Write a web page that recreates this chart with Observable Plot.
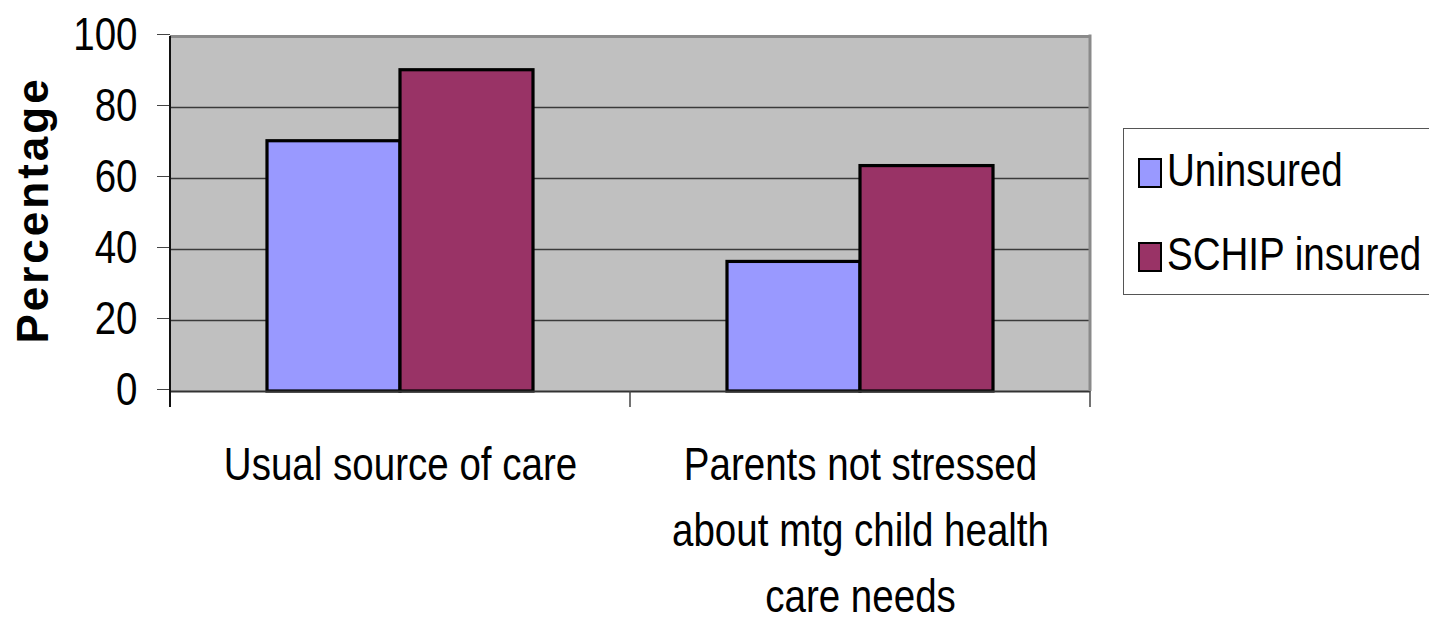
<!DOCTYPE html>
<html>
<head>
<meta charset="utf-8">
<script src="https://cdn.jsdelivr.net/npm/d3@7"></script>
<script src="https://cdn.jsdelivr.net/npm/@observablehq/plot@0.6"></script>
<style>
  body { margin: 0; background: #fff; }
  #wrap { position: relative; width: 1429px; height: 621px; overflow: hidden;
          font-family: "Liberation Sans", Arial, sans-serif; }
  #ytitle { position: absolute; left: 33px; top: 210px; transform: translate(-50%, -50%) rotate(-90deg);
            font-family: "Liberation Sans", Arial, sans-serif; font-weight: bold; font-size: 44px;
            letter-spacing: 3px; white-space: nowrap; line-height: 1; }
  #legend { position: absolute; left: 1123px; top: 128px; width: 330px; height: 167px;
            border: 1.5px solid #555; box-sizing: border-box; background: #fff; }
  .item { position: absolute; left: 14px; height: 47px; font-size: 47px; line-height: 47px; white-space: nowrap; }
  .sw { position: absolute; left: 0; width: 20px; height: 26px; border: 2.5px solid #000; }
  .lab { position: absolute; left: 29px; top: -12px; transform: scaleX(0.82); transform-origin: 0 0; }
</style>
</head>
<body>
<div id="wrap">
  <div id="chart"></div>
  <div id="ytitle">Percentage</div>
  <div id="legend"></div>
</div>
<script>
// Survey outcomes, percent of children
const categories = ["Usual source of care", "Parents not stressed\nabout mtg child health\ncare needs"];
const series = ["Uninsured", "SCHIP insured"];
const uninsured = [70.5, 36.5];
const schipInsured = [90.5, 63.5];
const seriesColors = ["#9999ff", "#993366"];
const yTicks = [0, 20, 40, 60, 80, 100];

// horizontal squeeze giving the narrow sans look
const NARROW = 0.82;

const rows = categories.flatMap((category, i) => [
  {category, series: series[0], value: uninsured[i]},
  {category, series: series[1], value: schipInsured[i]}
]);

const chart = Plot.plot({
  width: 1429,
  height: 621,
  marginLeft: 170,
  marginRight: 339,
  marginTop: 36,
  marginBottom: 230,
  style: {fontFamily: '"Liberation Sans", Arial, sans-serif', fontSize: "47px", color: "#000", background: "transparent", overflow: "visible"},
  fx: {domain: categories, padding: 0, axis: null},
  x: {domain: series, paddingInner: 0, paddingOuter: 0.727, axis: null},
  y: {domain: [0, 100], axis: null},
  color: {domain: series, range: seriesColors},
  marks: [
    Plot.frame({fill: "#c0c0c0", stroke: null, shapeRendering: "crispEdges"}),
    Plot.ruleY(yTicks.filter(t => t > 0 && t < 100), {stroke: "#3a3a3a", strokeWidth: 1.4}),
    Plot.ruleY([100], {stroke: "#8a8a8a", strokeWidth: 3}),
    Plot.barY(rows, {fx: "category", x: "series", y: "value", fill: "series", stroke: "#000", strokeWidth: 3.2}),
    Plot.ruleY([0], {stroke: "#333", strokeWidth: 2}),
    Plot.axisY({ticks: yTicks, tickSize: 13, tickPadding: 20, label: null, stroke: "#444", dy: -2}),
    Plot.axisFx({anchor: "bottom", tickSize: 0, tickPadding: 42, lineHeight: 1.4, label: null})
  ]
});

document.getElementById("chart").appendChild(chart);

// squeeze every label horizontally around its own anchor point
d3.select(chart).selectAll("text").each(function () {
  const xa = this.getAttribute("x");
  let shift = "";
  if (xa != null && /^-?[\d.]+$/.test(xa.trim())) {
    shift = ` translate(${+xa},0)`;
    this.removeAttribute("x");
  }
  const t = this.getAttribute("transform") || "";
  this.setAttribute("transform", `${t}${shift} scale(${NARROW},1)`);
});

// Frame decorations positioned from the chart's own scales
const fx = chart.scale("fx");
const ys = chart.scale("y");
const y0 = ys.apply(0), y100 = ys.apply(100);
const xStart = fx.apply(categories[0]);
const xEnd = fx.apply(categories[categories.length - 1]) + fx.bandwidth;
const deco = d3.select(chart).append("g");
// right shadow edge
deco.append("line").attr("x1", xEnd).attr("x2", xEnd).attr("y1", y100 - 1.5).attr("y2", y0)
  .attr("stroke", "#8a8a8a").attr("stroke-width", 3);
// category boundary ticks
categories.slice(1).map(c => fx.apply(c)).concat([xEnd]).forEach(x => {
  deco.append("line").attr("x1", x).attr("x2", x).attr("y1", y0).attr("y2", y0 + 16)
    .attr("stroke", "#444").attr("stroke-width", 1.5);
});
// value axis line
deco.append("line").attr("x1", xStart).attr("x2", xStart).attr("y1", y100).attr("y2", y0 + 16)
  .attr("stroke", "#111").attr("stroke-width", 2);

// legend
const legend = document.getElementById("legend");
series.forEach((s, i) => {
  const item = document.createElement("div");
  item.className = "item";
  item.style.top = (i === 0 ? 29 : 113) + "px";
  item.innerHTML = `<div class="sw" style="background:${seriesColors[i]}"></div><div class="lab"></div>`;
  item.querySelector(".lab").textContent = s;
  legend.appendChild(item);
});
</script>
</body>
</html>
